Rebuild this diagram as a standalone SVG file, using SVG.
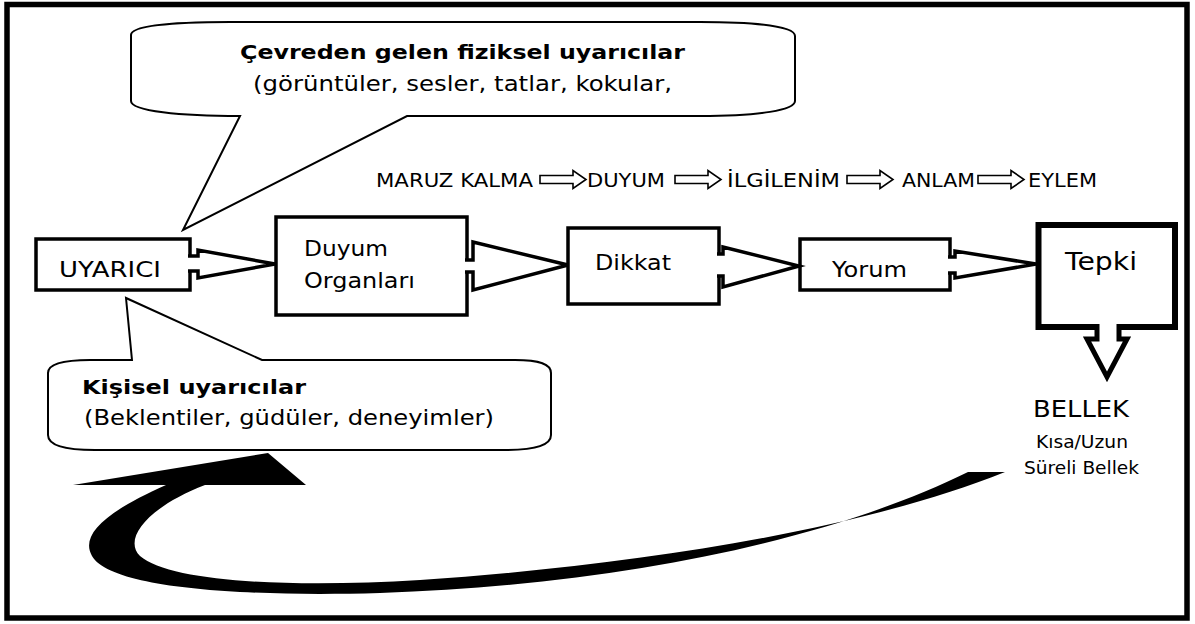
<svg xmlns="http://www.w3.org/2000/svg" width="1195" height="624" viewBox="0 0 1195 624">
<style>
text{font-family:"DejaVu Sans",Verdana,sans-serif;fill:#000}
.b{font-weight:bold}
.box{fill:#fff;stroke:#000;stroke-width:3.5}
.blk{fill:#fff;stroke:#000;stroke-width:3.5;stroke-linejoin:miter}
.call{fill:#fff;stroke:#000;stroke-width:2}
.sm{fill:#fff;stroke:#000;stroke-width:1.6}
</style>
<defs>
<path id="sa" d="M0,-4 L33,-4 L33,-9 L46,0 L33,9 L33,4 L0,4 Z"/>
</defs>
<rect x="0" y="0" width="1195" height="624" fill="#fff"/>
<rect x="7" y="4.5" width="1180" height="613.5" fill="none" stroke="#000" stroke-width="5.5"/>

<g id="callout-top">
<path class="call" d="M131,35 C131,26 170,22 230,22 L700,22 C760,22 795,27 795,36 L795,101 C795,110 760,116 700,116 L407,116 L183,230 L240,116 C180,116 131,111 131,101 Z"/>
<text x="240" y="59" font-size="20" class="b" textLength="445" lengthAdjust="spacingAndGlyphs">Çevreden gelen fiziksel uyarıcılar</text>
<text x="253" y="91" font-size="21" textLength="419" lengthAdjust="spacingAndGlyphs">(görüntüler, sesler, tatlar, kokular,</text>
</g>

<g id="process-line">
<text x="376" y="187" font-size="20" textLength="157" lengthAdjust="spacingAndGlyphs">MARUZ KALMA</text>
<use href="#sa" class="sm" x="540" y="179.5"/>
<text x="587" y="187" font-size="20" textLength="78" lengthAdjust="spacingAndGlyphs">DUYUM</text>
<use href="#sa" class="sm" x="675" y="179.5"/>
<text x="727" y="187" font-size="20" textLength="113" lengthAdjust="spacingAndGlyphs">İLGİLENİM</text>
<use href="#sa" class="sm" x="847" y="179.5"/>
<text x="902" y="187" font-size="20" textLength="73" lengthAdjust="spacingAndGlyphs">ANLAM</text>
<use href="#sa" class="sm" x="978" y="179.5"/>
<text x="1028" y="187" font-size="20" textLength="69" lengthAdjust="spacingAndGlyphs">EYLEM</text>
</g>

<g id="callout-bottom">
<path class="call" d="M48,373 C48,364 62,360 90,360 L132,360 L126,298 L262,360 L515,360 C540,360 551,364 551,373 L551,435 C551,445 535,450 505,450 L95,450 C65,450 48,445 48,435 Z"/>
<text x="82" y="394" font-size="20" class="b" textLength="224" lengthAdjust="spacingAndGlyphs">Kişisel uyarıcılar</text>
<text x="84" y="425" font-size="21" textLength="410" lengthAdjust="spacingAndGlyphs">(Beklentiler, güdüler, deneyimler)</text>
</g>

<g id="uyarici">
<rect class="box" x="36" y="239" width="154" height="51"/>
<text x="59" y="277" font-size="22" textLength="102" lengthAdjust="spacingAndGlyphs">UYARICI</text>
</g>

<g id="duyum">
<rect class="box" x="276" y="217" width="191" height="98"/>
<text x="304" y="256" font-size="21" textLength="84" lengthAdjust="spacingAndGlyphs">Duyum</text>
<text x="304" y="288" font-size="21" textLength="111" lengthAdjust="spacingAndGlyphs">Organları</text>
</g>

<g id="dikkat">
<rect class="box" x="568" y="228" width="151" height="76"/>
<text x="595" y="270" font-size="22" textLength="76" lengthAdjust="spacingAndGlyphs">Dikkat</text>
</g>

<g id="yorum">
<rect class="box" x="800" y="239" width="150" height="51"/>
<text x="832" y="277" font-size="22" textLength="75" lengthAdjust="spacingAndGlyphs">Yorum</text>
</g>

<g id="tepki">
<rect x="1038.5" y="225" width="136.5" height="102" fill="#fff" stroke="#000" stroke-width="6"/>
<text x="1065" y="270" font-size="24" textLength="72" lengthAdjust="spacingAndGlyphs">Tepki</text>
</g>

<g id="bellek">
<text x="1033" y="417" font-size="23" textLength="96" lengthAdjust="spacingAndGlyphs">BELLEK</text>
<text x="1036" y="448" font-size="17" textLength="92" lengthAdjust="spacingAndGlyphs">Kısa/Uzun</text>
<text x="1024" y="474" font-size="17" textLength="115" lengthAdjust="spacingAndGlyphs">Süreli Bellek</text>
</g>

<g id="connectors">
<path class="blk" d="M188,256 L198,256 L198,250 L275,264 L198,278 L198,271 L188,271"/>
<path class="blk" d="M465,260 L473,260 L473,242 L568,265 L473,290 L473,272 L465,272"/>
<path class="blk" d="M717,254 L723,254 L723,247 L799,266 L723,287 L723,276 L717,276"/>
<path class="blk" d="M948,257 L955,257 L955,251 L1036,264 L955,278 L955,273 L948,273"/>
<path fill="#fff" stroke="#000" stroke-width="5" d="M1097,324 L1097,339 L1087,339 L1107,377 L1127,339 L1119,339 L1119,324"/>
<path fill="#000" d="M166,485 C105,512 80,535 92,556 C110,588 240,597 380,593 C620,585 830,540 968,472 L1005,472 C860,530 640,565 420,580 C290,588 170,582 140,556 C122,538 150,506 205,485 Z"/>
<path fill="#000" d="M73,485 L268,453 L306,485 Z"/>
</g>
</svg>
